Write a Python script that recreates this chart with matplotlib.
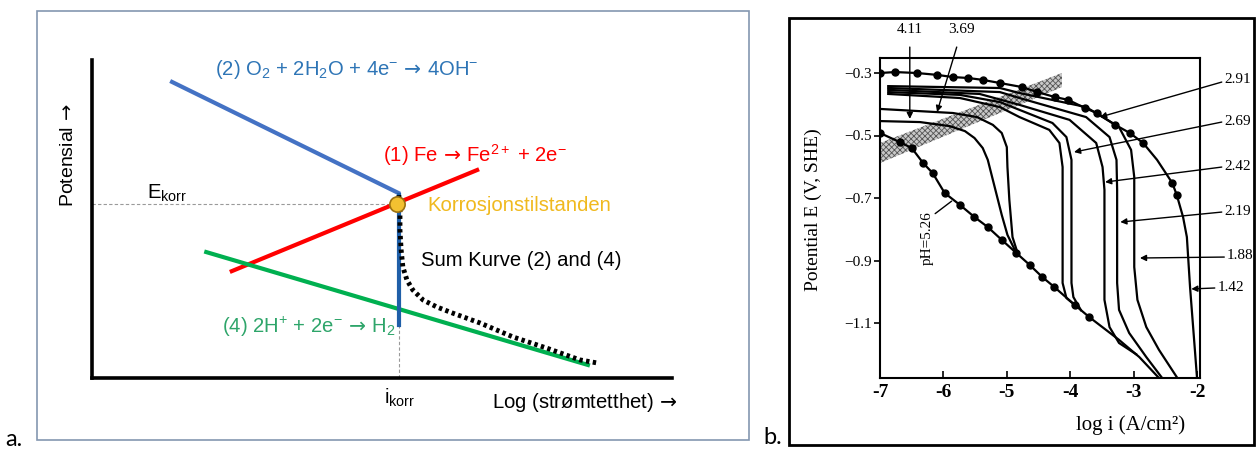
import matplotlib
matplotlib.use("Agg")
import matplotlib.pyplot as plt
from matplotlib.patches import Rectangle

W, H = 1259, 453

# ---- panel a: schematic Evans diagram (arbitrary units 0..10) ----
o2_x = [1.38, 5.28]
o2_y = [9.31, 5.82]
fe_x = [2.41, 6.64]
fe_y = [3.36, 6.54]
h2_x = [1.97, 8.55]
h2_y = [3.96, 0.41]
limit_x = [5.29, 5.29]
limit_y = [5.75, 1.67]
sum_x = [5.29, 5.31, 5.31, 5.33, 5.36, 5.43, 5.53, 5.71, 5.95, 6.22, 6.69, 7.26, 7.84, 8.41, 8.72]
sum_y = [5.75, 5.28, 4.65, 4.03, 3.49, 3.08, 2.77, 2.45, 2.23, 2.04, 1.73, 1.29, 0.94, 0.57, 0.47]
e_korr = 5.47
i_korr = 5.29

# ---- panel b: measured polarisation curves ----
ph526_x = [-7.00, -6.69, -6.50, -6.32, -6.17, -5.98, -5.74, -5.51, -5.30, -5.08,
           -4.85, -4.64, -4.44, -4.25, -3.93, -3.70, -3.23, -2.91, -2.60]
ph526_y = [-0.492, -0.521, -0.540, -0.588, -0.620, -0.684, -0.722, -0.761, -0.793, -0.834,
           -0.876, -0.914, -0.953, -0.985, -1.042, -1.081, -1.154, -1.209, -1.276]
ph411_x = [-6.97, -6.37, -5.90, -5.66, -5.51, -5.38, -5.30, -5.24, -5.16, -5.08, -4.99, -4.85]
ph411_y = [-0.454, -0.457, -0.470, -0.486, -0.508, -0.540, -0.578, -0.626, -0.690, -0.754, -0.818, -0.876]
ph369_x = [-7.00, -5.85, -5.47, -5.22, -5.08, -5.00, -4.99, -4.96, -4.91, -4.83]
ph369_y = [-0.415, -0.428, -0.441, -0.466, -0.492, -0.537, -0.601, -0.706, -0.825, -0.876]
ph291_x = [-6.87, -5.74, -5.11, -4.80, -4.33, -4.17, -4.12, -4.12, -4.06, -3.93]
ph291_y = [-0.367, -0.380, -0.409, -0.441, -0.482, -0.524, -0.601, -0.972, -1.020, -1.042]
ph269_x = [-6.87, -5.74, -5.11, -4.80, -4.28, -4.06, -3.98, -3.98, -3.95, -3.83]
ph269_y = [-0.361, -0.370, -0.393, -0.418, -0.460, -0.505, -0.578, -0.972, -1.017, -1.059]
ph242_x = [-6.87, -5.43, -4.80, -4.01, -3.59, -3.49, -3.46, -3.46, -3.38, -3.23, -2.96]
ph242_y = [-0.354, -0.367, -0.402, -0.450, -0.524, -0.601, -0.674, -1.026, -1.113, -1.164, -1.200]
ph219_x = [-6.87, -5.11, -4.80, -3.75, -3.38, -3.27, -3.26, -3.26, -3.23, -3.07, -2.80, -2.55]
ph219_y = [-0.348, -0.361, -0.380, -0.441, -0.505, -0.578, -0.674, -0.972, -1.058, -1.132, -1.209, -1.276]
ph188_x = [-6.87, -5.11, -4.80, -3.75, -3.23, -3.04, -2.99, -2.99, -2.94, -2.80, -2.60, -2.31]
ph188_y = [-0.342, -0.348, -0.364, -0.409, -0.473, -0.546, -0.633, -0.921, -1.026, -1.113, -1.186, -1.276]
ph142_x = [-7.00, -6.76, -6.42, -6.10, -5.85, -5.61, -5.38, -5.11, -4.76, -4.52, -4.24, -4.03, -3.77,
           -3.58, -3.29, -3.06, -2.85, -2.63, -2.39, -2.32, -2.22, -2.16, -2.11, -2.03, -2.00]
ph142_y = [-0.300, -0.297, -0.300, -0.306, -0.313, -0.316, -0.322, -0.332, -0.345, -0.361, -0.377, -0.386, -0.412,
           -0.428, -0.466, -0.492, -0.524, -0.578, -0.652, -0.690, -0.761, -0.825, -0.985, -1.196, -1.276]
ph142_dots = list(range(17)) + [18, 19]

band_x = [-7.00, -4.13]
band_lo = [-0.588, -0.345]
band_hi = [-0.524, -0.300]

ph_labels = ["4.11", "3.69", "2.91", "2.69", "2.42", "2.19", "1.88", "1.42"]
label_x = [-6.53, -5.71, -1.57, -1.57, -1.57, -1.57, -1.53, -1.68]
label_y = [-0.162, -0.162, -0.322, -0.456, -0.600, -0.744, -0.885, -0.987]
arrow_x0 = [-6.53, -5.79, -1.61, -1.61, -1.61, -1.61, -1.57, -1.72]
arrow_y0 = [-0.217, -0.217, -0.329, -0.457, -0.601, -0.745, -0.889, -0.988]
arrow_x1 = [-6.53, -6.10, -3.53, -3.94, -3.45, -3.21, -2.90, -2.09]
arrow_y1 = [-0.447, -0.425, -0.441, -0.553, -0.649, -0.777, -0.892, -0.991]

x_ticks = [-7, -6, -5, -4, -3, -2]
x_tick_labels = ["-7", "-6", "-5", "-4", "-3", "-2"]
y_ticks = [-0.3, -0.5, -0.7, -0.9, -1.1]
y_tick_labels = ["\u22120.3", "\u22120.5", "\u22120.7", "\u22120.9", "\u22121.1"]


def px_rect(x0, y0, x1, y1):
    return [x0 / W, 1 - y1 / H, (x1 - x0) / W, (y1 - y0) / H]


plt.rcParams["mathtext.fontset"] = "custom"
plt.rcParams["mathtext.rm"] = "Liberation Sans"
plt.rcParams["mathtext.it"] = "Liberation Sans:italic"
plt.rcParams["mathtext.sf"] = "DejaVu Sans"
plt.rcParams["hatch.linewidth"] = 0.6
SANS = ["Liberation Sans", "DejaVu Sans"]
SERIF = ["Liberation Serif", "DejaVu Serif"]
FS_A = 14.6
ARROW = r"$\!\mathsf{\rightarrow}\!$"

fig = plt.figure(figsize=(W / 100, H / 100), dpi=100)

# outer frames
x0, y0, w, h = px_rect(37, 11, 749, 440)
fig.add_artist(Rectangle((x0, y0), w, h, transform=fig.transFigure,
                         fill=False, edgecolor="#8497b0", lw=1.2))
x0, y0, w, h = px_rect(789, 18, 1254, 445)
fig.add_artist(Rectangle((x0, y0), w, h, transform=fig.transFigure,
                         fill=False, edgecolor="black", lw=2))
fig.text(5 / W, 1 - 440 / H, "a.", fontsize=17, family=["Lato", "DejaVu Sans"], va="center")
fig.text(763 / W, 1 - 437 / H, "b.", fontsize=17, family=["Lato", "DejaVu Sans"], va="center")

# ---- panel a ----
ax = fig.add_axes(px_rect(92, 60, 672, 378))
ax.set_xlim(0, 10)
ax.set_ylim(0, 10)
for s in ("top", "right"):
    ax.spines[s].set_visible(False)
for s in ("left", "bottom"):
    ax.spines[s].set_linewidth(2.6)
ax.set_xticks([])
ax.set_yticks([])
ax.patch.set_visible(False)

ax.plot([0, i_korr], [e_korr, e_korr], color="#9a9a9a", lw=0.8, ls=(0, (3, 2)))
ax.plot([i_korr, i_korr], [0, e_korr], color="#9a9a9a", lw=0.8, ls=(0, (3, 2)))
ax.plot(o2_x, o2_y, color="#4472c4", lw=3)
ax.plot(fe_x, fe_y, color="#ff0000", lw=3)
ax.plot(h2_x, h2_y, color="#00b050", lw=3)
ax.plot(limit_x, limit_y, color="#1f5fa8", lw=3, zorder=3)
ax.plot(sum_x, sum_y, color="black", lw=3.5, ls=(0, (0.7, 0.7)), zorder=4)
ax.plot([i_korr - 0.03], [e_korr], "o", ms=11, mfc="#f2c131", mec="#9a7010", mew=1.2, zorder=5)

txt_kw = dict(fontsize=FS_A, family=SANS, va="center")
ax.text(2.12, 9.69, "(2) O$_2$ + 2H$_2$O + 4e$^{-}$ " + ARROW + " 4OH$^{-}$", color="#2e75b6",
        clip_on=False, **txt_kw)
ax.text(5.02, 7.01, "(1) Fe " + ARROW + " Fe$^{2+}$ + 2e$^{-}$", color="#ff0000", **txt_kw)
ax.text(5.79, 5.44, "Korrosjonstilstanden", color="#f0b91e", **txt_kw)
ax.text(5.67, 3.71, "Sum Kurve (2) and (4)", color="black", **txt_kw)
ax.text(2.24, 1.60, "(4) 2H$^{+}$ + 2e$^{-}$ " + ARROW + " H$_2$", color="#2ea56a", **txt_kw)
ax.text(0.95, 5.82, r"E$_{\mathrm{korr}}$", **txt_kw)
ax.text(5.31, -0.63, r"i$_{\mathrm{korr}}$", ha="center", clip_on=False, **txt_kw)
ax.text(6.90, -0.78, "Log (str\u00f8mtetthet) " + ARROW, clip_on=False, **txt_kw)
ax.text(-0.40, 7.01, "Potensial " + ARROW, ha="center", rotation=90, clip_on=False,
        **dict(txt_kw, fontsize=14))

# ---- panel b ----
bx = fig.add_axes(px_rect(880, 58, 1200, 378))
bx.set_xlim(-7, -1.953)
bx.set_ylim(-1.276, -0.252)
for s in bx.spines.values():
    s.set_linewidth(1.5)

bx.fill_between(band_x, band_lo, band_hi, facecolor="#c8c8c8", edgecolor="#555555",
                hatch="xxxxxx", lw=0, zorder=1)

curve_kw = dict(color="black", lw=1.6, zorder=2)
for cx, cy in [(ph411_x, ph411_y), (ph369_x, ph369_y), (ph291_x, ph291_y),
               (ph269_x, ph269_y), (ph242_x, ph242_y), (ph219_x, ph219_y),
               (ph188_x, ph188_y)]:
    bx.plot(cx, cy, **curve_kw)
bx.plot(ph526_x, ph526_y, marker="o", ms=5, markevery=slice(0, 16), **curve_kw)
bx.plot(ph142_x, ph142_y, marker="o", ms=5, markevery=ph142_dots, **curve_kw)

for lab, lx, ly, ax0, ay0, ax1, ay1 in zip(ph_labels, label_x, label_y,
                                          arrow_x0, arrow_y0, arrow_x1, arrow_y1):
    ha = "center" if lx < -5 else "left"
    bx.text(lx, ly, lab, fontsize=11, family=SERIF, ha=ha, va="center", clip_on=False)
    bx.annotate("", xy=(ax1, ay1), xytext=(ax0, ay0), annotation_clip=False,
                arrowprops=dict(arrowstyle="-|>", color="black", lw=1.0,
                                mutation_scale=9, shrinkA=0, shrinkB=0))

bx.text(-6.25, -0.828, "pH=5.26", fontsize=11, family=SERIF, rotation=90,
        ha="center", va="center")
bx.annotate("", xy=(-5.87, -0.71), xytext=(-6.13, -0.75),
            arrowprops=dict(arrowstyle="-", color="black", lw=1.0, shrinkA=0, shrinkB=0))

bx.set_xticks(x_ticks)
bx.set_xticklabels(x_tick_labels, fontsize=14, fontweight="bold", family=SERIF)
bx.set_yticks(y_ticks)
bx.set_yticklabels(y_tick_labels, fontsize=11, family=SERIF)
bx.tick_params(axis="y", direction="out", length=4, width=1.2, pad=2)
bx.tick_params(axis="x", direction="in", length=5, width=1.2, pad=4)
bx.set_xlabel("log i (A/cm\u00b2)", fontsize=15, family=SERIF)
bx.xaxis.set_label_coords(0.784, -0.118)
bx.set_ylabel("Potential E (V, SHE)", fontsize=14, family=SERIF)
bx.yaxis.set_label_coords(-0.18, 0.525)

fig.savefig("out.png", dpi=100)
